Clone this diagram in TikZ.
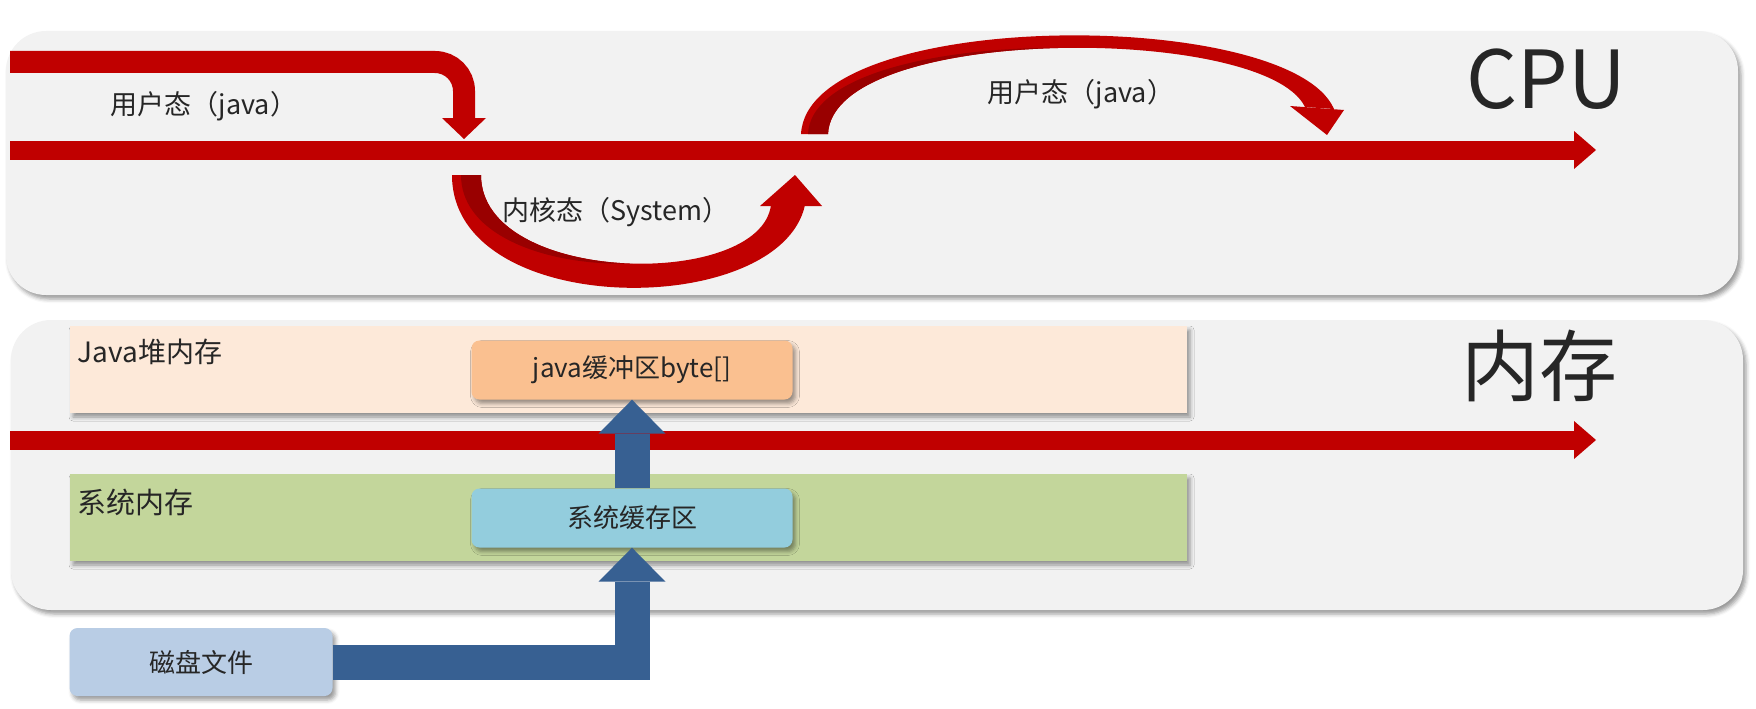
\documentclass[tikz,border=0pt]{standalone}
\usepackage{fontspec}
\setmainfont{Noto Sans CJK SC}
\usetikzlibrary{arrows.meta,shadows.blur,positioning}
\definecolor{cpured}{HTML}{C00000}
\definecolor{darkred}{HTML}{990000}
\definecolor{panel}{HTML}{F2F2F2}
\definecolor{heap}{HTML}{FDE9D9}
\definecolor{sysmem}{HTML}{C3D69B}
\definecolor{bufpeach}{HTML}{FAC090}
\definecolor{bufblue}{HTML}{93CDDD}
\definecolor{diskblue}{HTML}{B9CDE5}
\definecolor{flow}{HTML}{376092}
\definecolor{ink}{HTML}{262626}

\begin{document}
\begin{tikzpicture}[x=1pt, y=-1pt, >=stealth,
    dropshade/.style={blur shadow={shadow xshift=3pt, shadow yshift=-4pt, shadow blur radius=4pt, shadow opacity=40}},
    box/.style={rounded corners=8pt, minimum width=321pt, minimum height=59pt, font=\fontsize{26}{30}\selectfont, text=ink, dropshade},
    lbl/.style={font=\fontsize{27}{32}\selectfont, text=ink},
    timeline/.style={cpured, line width=19pt, -{Triangle[width=38pt, length=22pt, line width=0pt]}},
    flowarrow/.style={flow, line width=35pt, -{Triangle[width=67pt, length=34pt, line width=0pt]}}]
  \useasboundingbox (0,0) rectangle (1756,709);
  % the two panels
  \fill[panel, rounded corners=40pt, dropshade] (6,31) rectangle (1738,295);
  \fill[panel, rounded corners=40pt, dropshade] (11,320) rectangle (1743,610);
  \fill[heap, dropshade] (70,326) rectangle (1187,413);
  \fill[sysmem, dropshade] (70,474) rectangle (1187,561);
  \node[lbl, font=\fontsize{28}{32}\selectfont, anchor=west] (heaplbl) at (74,352) {Java堆内存};
  \node[lbl, font=\fontsize{29}{32}\selectfont, anchor=west] (syslbl) at (74,502) {系统内存};
  \node[font=\fontsize{80}{90}\selectfont, text=ink] (cpu) at (1546,79) {CPU};
  \node[font=\fontsize{78}{88}\selectfont, text=ink] (mem) at (1539,366) {内存};
  % time lines
  \coordinate (cpuL) at (10,150);
  \coordinate (cpuR) at (1596,150);
  \coordinate (memL) at (10,440);
  \coordinate (memR) at (1596,440);
  \draw[timeline] (cpuL) -- (cpuR);
  \draw[timeline] (memL) -- (memR);
  % user mode, first part
  \coordinate (bendS) at (10,62);
  \coordinate (bendE) at (464,139);
  \draw[cpured, line width=22pt, rounded corners=29pt, -{Triangle[width=44pt, length=21pt, line width=0pt]}] (bendS) -| (bendE);
  \node[lbl] (user1) at (204,106) {用户态（java）};
  % kernel mode dip
  \fill[cpured] (452,175) -- (481,175) .. controls (481,285) and (760,290) .. (771,205) -- (805,205) .. controls (780,320) and (452,320) .. (452,175) -- cycle;
  \begin{scope}
    \clip (452,175) -- (481,175) .. controls (481,285) and (760,290) .. (771,205) -- (805,205) .. controls (780,320) and (452,320) .. (452,175) -- cycle;
    \fill[darkred] (461,150) -- (461,175) .. controls (461,285) and (740,290) .. (751,205) -- (751,150) -- cycle;
  \end{scope}
  \fill[cpured] (760,206) -- (795,175) -- (822,206) -- cycle;
  \node[lbl] (kernel) at (616,212) {内核态（System）};
  % user mode, back again
  \fill[cpured] (801,134) .. controls (808,7) and (1290,7) .. (1334,109) -- (1305,107) .. controls (1265,24) and (833,24) .. (828,134) -- cycle;
  \begin{scope}
    \clip (801,134) .. controls (808,7) and (1290,7) .. (1334,109) -- (1305,107) .. controls (1265,24) and (833,24) .. (828,134) -- cycle;
    \fill[darkred] (808,160) -- (808,134) .. controls (813,24) and (1245,24) .. (1285,107) -- (1285,160) -- cycle;
  \end{scope}
  \fill[cpured] (1290,106) -- (1344,110) -- (1327,135) -- cycle;
  \node[lbl] (user2) at (1081,94) {用户态（java）};
  % buffers
  \node[box, fill=bufpeach] (javabuf) at (632,370) {java缓冲区byte[]};
  \node[box, fill=bufblue] (sysbuf) at (632,518) {系统缓存区};
  \node[box, fill=diskblue, minimum width=263pt, minimum height=68pt] (disk) at (201,662) {磁盘文件};
  \draw[flowarrow] (sysbuf.north) -- (javabuf.south);
  \draw[flowarrow] (disk.east) -| (sysbuf.south);
\end{tikzpicture}
\end{document}
